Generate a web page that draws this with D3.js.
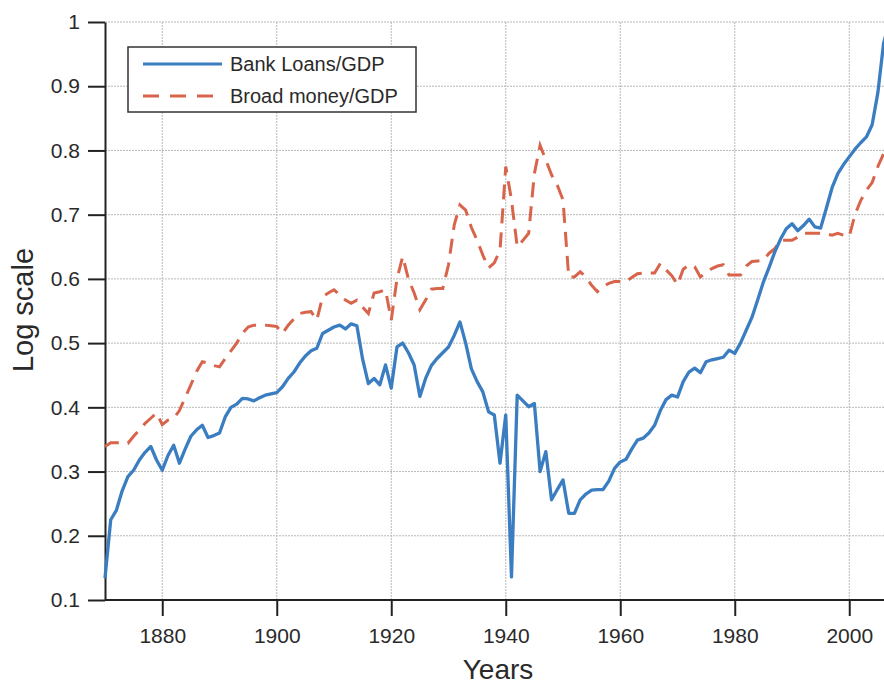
<!DOCTYPE html>
<html>
<head>
<meta charset="UTF-8">
<script src="https://d3js.org/d3.v7.min.js"></script>
<style>
  body { margin: 0; background: #fff; }
  svg text { font-family: "Liberation Sans", Arial, sans-serif; fill: #2a2a2a; }
  .grid line { stroke: #b8b8b8; stroke-width: 1px; stroke-dasharray: 2 1; }
  .axis path, .axis line { stroke: #222; stroke-width: 2px; }
</style>
</head>
<body>
<div id="viz"></div>
<script>
// years 1870..2007
const years = d3.range(1870, 2008);

const bankLoans = [
  0.134, 0.225, 0.24, 0.27, 0.292, 0.302, 0.318, 0.33, 0.339, 0.318,
  0.302, 0.325, 0.341, 0.313, 0.335, 0.355, 0.365, 0.372, 0.353, 0.356,
  0.36, 0.385, 0.4, 0.405, 0.414, 0.413, 0.41, 0.415, 0.419, 0.421,
  0.423, 0.432, 0.445, 0.455, 0.469, 0.48, 0.488, 0.492, 0.515, 0.52,
  0.525, 0.528, 0.522, 0.53, 0.527, 0.475, 0.437, 0.445, 0.435, 0.466,
  0.43, 0.494, 0.5, 0.485, 0.466, 0.417, 0.445, 0.465, 0.476, 0.485,
  0.494, 0.512, 0.533, 0.5, 0.46, 0.44, 0.424, 0.393, 0.388, 0.313,
  0.388, 0.136, 0.419, 0.41, 0.401, 0.406, 0.3, 0.331, 0.256, 0.272,
  0.287, 0.235, 0.235, 0.256, 0.265, 0.271, 0.272, 0.272, 0.285, 0.305,
  0.315, 0.319, 0.335, 0.349, 0.352, 0.36, 0.372, 0.395, 0.412, 0.419,
  0.416, 0.44, 0.455, 0.461, 0.454, 0.471, 0.474, 0.476, 0.478, 0.489,
  0.484, 0.5, 0.52, 0.54, 0.567, 0.595, 0.618, 0.642, 0.662, 0.678,
  0.686, 0.675, 0.683, 0.693, 0.681, 0.679, 0.71, 0.742, 0.764, 0.778,
  0.79, 0.802, 0.812, 0.821, 0.84, 0.89, 0.967, 1.0
];

const broadMoney = [
  0.339, 0.345, 0.345, 0.345, 0.344, 0.355, 0.365, 0.375, 0.383, 0.391,
  0.373, 0.38, 0.383, 0.395, 0.415, 0.435, 0.456, 0.471, 0.469, 0.465,
  0.463, 0.476, 0.488, 0.5, 0.515, 0.525, 0.528, 0.528, 0.528, 0.527,
  0.526, 0.515, 0.528, 0.538, 0.546, 0.548, 0.549, 0.536, 0.572, 0.578,
  0.583, 0.575, 0.567, 0.562, 0.567, 0.556, 0.546, 0.578, 0.58, 0.583,
  0.536, 0.6, 0.635, 0.6, 0.578, 0.552, 0.567, 0.584, 0.585, 0.585,
  0.622, 0.684, 0.715, 0.707, 0.68, 0.66, 0.637, 0.617, 0.625, 0.645,
  0.775, 0.723, 0.65, 0.66, 0.671, 0.764, 0.808, 0.785, 0.762, 0.746,
  0.723, 0.603, 0.603, 0.611, 0.603, 0.59, 0.58, 0.588, 0.593, 0.596,
  0.596, 0.596, 0.602, 0.608, 0.609, 0.609, 0.609, 0.624, 0.614, 0.605,
  0.591, 0.615, 0.622, 0.619, 0.603, 0.61, 0.616, 0.62, 0.622, 0.606,
  0.606, 0.606, 0.62, 0.627, 0.628, 0.629, 0.64, 0.647, 0.66, 0.66,
  0.66, 0.665, 0.671, 0.671, 0.671, 0.671, 0.67, 0.668, 0.671, 0.668,
  0.666, 0.7, 0.722, 0.738, 0.75, 0.775, 0.795, 0.82
];

const xTicks = [1880, 1900, 1920, 1940, 1960, 1980, 2000];
const yTicks = [0.1, 0.2, 0.3, 0.4, 0.5, 0.6, 0.7, 0.8, 0.9, 1];
const seriesNames = ["Bank Loans/GDP", "Broad money/GDP"];

const width = 884, height = 686;
const mLeft = 105, mTop = 22, mBottom = 600;

const x = d3.scaleLinear().domain([1870, 2010]).range([mLeft, mLeft + 140 * 5.725]);
const y = d3.scaleLinear().domain([0.1, 1]).range([mBottom, mTop]);

const svg = d3.select("#viz").append("svg")
  .attr("width", width).attr("height", height);

// grid
const grid = svg.append("g").attr("class", "grid");
grid.selectAll(".vg").data(xTicks).enter().append("line")
  .attr("x1", d => x(d)).attr("x2", d => x(d))
  .attr("y1", mTop).attr("y2", mBottom);
grid.selectAll(".hg").data(yTicks.slice(1)).enter().append("line")
  .attr("x1", mLeft).attr("x2", width)
  .attr("y1", d => y(d)).attr("y2", d => y(d));

// axes
const xAxis = svg.append("g").attr("class", "axis")
  .attr("transform", `translate(0,${mBottom})`)
  .call(d3.axisBottom(x).tickValues(xTicks).tickFormat(d3.format("d"))
    .tickSizeInner(16).tickSizeOuter(0).tickPadding(12));
xAxis.select(".domain").attr("d", `M${mLeft},0H${width}`);
xAxis.selectAll("text").style("font-size", "21px");

const yAxis = svg.append("g").attr("class", "axis")
  .attr("transform", `translate(${mLeft},0)`)
  .call(d3.axisLeft(y).tickValues(yTicks).tickFormat(d => d === 1 ? "1" : d3.format(".1f")(d))
    .tickSizeInner(17).tickSizeOuter(0).tickPadding(8));
yAxis.selectAll("text").style("font-size", "21px");

// lines
const line = vals => d3.line()
  .x((d, i) => x(years[i]))
  .y(d => y(d))(vals);

svg.append("path").attr("d", line(broadMoney))
  .attr("fill", "none").attr("stroke", "#d8644c").attr("stroke-width", 3)
  .attr("stroke-dasharray", "15 9");

svg.append("path").attr("d", line(bankLoans))
  .attr("fill", "none").attr("stroke", "#3a7dc1").attr("stroke-width", 3.3)
  .attr("stroke-linejoin", "round");

// legend
const lg = svg.append("g");
lg.append("rect").attr("x", 128).attr("y", 47).attr("width", 288).attr("height", 65)
  .attr("fill", "#fff").attr("stroke", "#333").attr("stroke-width", 1.5);
const legendItems = [
  { name: seriesNames[0], color: "#3a7dc1", dash: null },
  { name: seriesNames[1], color: "#d8644c", dash: "16 11" }
];
legendItems.forEach((it, i) => {
  const yy = 64 + i * 32;
  lg.append("line").attr("x1", 143).attr("x2", 222).attr("y1", yy).attr("y2", yy)
    .attr("stroke", it.color).attr("stroke-width", 3)
    .attr("stroke-dasharray", it.dash);
  lg.append("text").attr("x", 230).attr("y", yy + 7).style("font-size", "20px").text(it.name);
});

// axis titles
svg.append("text").attr("x", 498).attr("y", 679).attr("text-anchor", "middle")
  .style("font-size", "28px").text("Years");
svg.append("text").attr("transform", "translate(33,310) rotate(-90)")
  .attr("text-anchor", "middle").style("font-size", "29px").text("Log scale");
</script>
</body>
</html>
